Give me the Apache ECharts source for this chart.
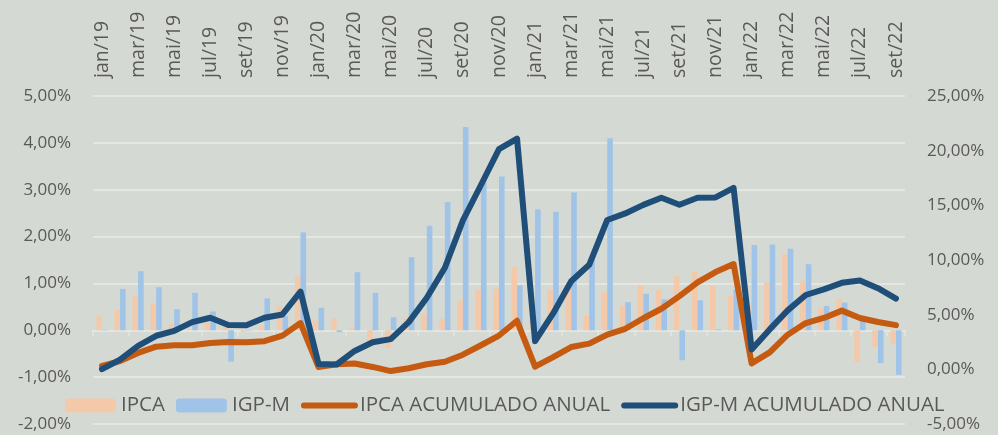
<!DOCTYPE html>
<html>
<head>
<meta charset="utf-8">
<script src="https://cdn.jsdelivr.net/npm/echarts@6/dist/echarts.min.js"></script>
<style>
html,body{margin:0;padding:0;background:#d5d9d3;}
#c{width:998px;height:435px;}
</style>
</head>
<body>
<div id="c"></div>
<script>
const categories = [
 'jan/19','fev/19','mar/19','abr/19','mai/19','jun/19','jul/19','ago/19','set/19','out/19','nov/19','dez/19',
 'jan/20','fev/20','mar/20','abr/20','mai/20','jun/20','jul/20','ago/20','set/20','out/20','nov/20','dez/20',
 'jan/21','fev/21','mar/21','abr/21','mai/21','jun/21','jul/21','ago/21','set/21','out/21','nov/21','dez/21',
 'jan/22','fev/22','mar/22','abr/22','mai/22','jun/22','jul/22','ago/22','set/22'
];
const ipca = [
 0.32,0.43,0.75,0.57,0.13,0.01,0.19,0.11,-0.04,0.10,0.51,1.15,
 0.21,0.25,0.07,-0.31,-0.38,0.26,0.36,0.24,0.64,0.86,0.89,1.35,
 0.25,0.86,0.93,0.31,0.83,0.53,0.96,0.87,1.16,1.25,0.95,0.73,
 0.54,1.01,1.62,1.06,0.47,0.67,-0.68,-0.36,-0.29
];
const igpm = [
 0.01,0.88,1.26,0.92,0.45,0.80,0.40,-0.67,-0.01,0.68,0.30,2.09,
 0.48,-0.04,1.24,0.80,0.28,1.56,2.23,2.74,4.34,3.23,3.28,0.96,
 2.58,2.53,2.94,1.51,4.10,0.60,0.78,0.66,-0.64,0.64,0.02,0.87,
 1.82,1.83,1.74,1.41,0.52,0.59,0.21,-0.70,-0.95
];
const ipcaAcum = [
 0.32,0.75,1.50,2.07,2.20,2.21,2.40,2.51,2.47,2.57,3.08,4.23,
 0.21,0.46,0.53,0.22,-0.16,0.10,0.46,0.70,1.34,2.20,3.09,4.44,
 0.25,1.11,2.04,2.35,3.18,3.71,4.67,5.54,6.70,7.95,8.90,9.63,
 0.54,1.55,3.17,4.23,4.70,5.37,4.69,4.33,4.04
];
const igpmAcum = [
 0.01,0.89,2.15,3.07,3.52,4.32,4.72,4.05,4.04,4.72,5.02,7.11,
 0.48,0.44,1.68,2.48,2.76,4.32,6.55,9.29,13.63,16.86,20.14,21.10,
 2.58,5.11,8.05,9.56,13.66,14.26,15.04,15.70,15.06,15.70,15.72,16.59,
 1.82,3.65,5.39,6.80,7.32,7.91,8.12,7.42,6.47
];
const leftTicks = {min:-2, max:5, interval:1};
const rightTicks = {min:-5, max:25, interval:5};

const FONT = '"Open Sans", "Noto Sans", sans-serif';
const TXT = '#595959';
const fmt = v => v.toFixed(2).replace('.', ',') + '%';

const chart = echarts.init(document.getElementById('c'), null, {renderer:'canvas'});
chart.setOption({
  backgroundColor: '#d5d9d3',
  animation: false,
  textStyle: {fontFamily: FONT},
  grid: {left: 93, right: 93, top: 96, bottom: 11, containLabel: false},
  legend: {
    left: 60, top: 390,
    itemWidth: 51, itemHeight: 14, itemGap: 11,
    textStyle: {fontSize: 20.5, color: TXT, fontFamily: FONT},
    data: [
      {name: 'IPCA'},
      {name: 'IGP-M'},
      {name: 'IPCA ACUMULADO ANUAL', itemStyle: {opacity: 0}, lineStyle: {width: 6, color: '#c55a11', cap: 'round'}},
      {name: 'IGP-M ACUMULADO ANUAL', itemStyle: {opacity: 0}, lineStyle: {width: 6, color: '#1f4e79', cap: 'round'}}
    ]
  },
  xAxis: [
    {
      type: 'category', data: categories, position: 'top',
      axisLine: {show: false}, axisTick: {show: false},
      axisLabel: {interval: 1, rotate: 90, margin: 18, fontSize: 19.5, color: TXT, fontFamily: FONT}
    },
    {
      type: 'category', data: categories, position: 'bottom',
      axisLine: {show: true, onZero: true, onZeroAxisIndex: 0, lineStyle: {color: '#e3e6e1', width: 2}},
      axisTick: {show: true, interval: 1, length: 6, lineStyle: {color: '#e3e6e1', width: 1.5}},
      axisLabel: {show: false}
    }
  ],
  yAxis: [
    {
      type: 'value', min: leftTicks.min, max: leftTicks.max, interval: leftTicks.interval,
      axisLine: {show: false}, axisTick: {show: false},
      splitLine: {lineStyle: {color: '#e3e6e1', width: 2}},
      axisLabel: {formatter: fmt, fontSize: 17, color: TXT, margin: 22, fontFamily: FONT}
    },
    {
      type: 'value', min: rightTicks.min, max: rightTicks.max, interval: rightTicks.interval,
      axisLine: {show: false}, axisTick: {show: false}, splitLine: {show: false},
      axisLabel: {formatter: fmt, fontSize: 17, color: TXT, margin: 22, fontFamily: FONT}
    }
  ],
  series: [
    {name: 'IPCA', type: 'bar', data: ipca, xAxisIndex: 0, yAxisIndex: 0,
     barWidth: '31%', barGap: '0%', itemStyle: {color: '#f4c9aa'}},
    {name: 'IGP-M', type: 'bar', data: igpm, xAxisIndex: 0, yAxisIndex: 0,
     barWidth: '31%', barGap: '0%', itemStyle: {color: '#9fc4e8'}},
    {name: 'IPCA ACUMULADO ANUAL', type: 'line', data: ipcaAcum, xAxisIndex: 0, yAxisIndex: 1,
     symbol: 'none', showSymbol: false, lineStyle: {color: '#c55a11', width: 6, join: 'round', cap: 'round'},
     itemStyle: {color: '#c55a11'}},
    {name: 'IGP-M ACUMULADO ANUAL', type: 'line', data: igpmAcum, xAxisIndex: 0, yAxisIndex: 1,
     symbol: 'none', showSymbol: false, lineStyle: {color: '#1f4e79', width: 6, join: 'round', cap: 'round'},
     itemStyle: {color: '#1f4e79'}}
  ]
});
</script>
</body>
</html>
